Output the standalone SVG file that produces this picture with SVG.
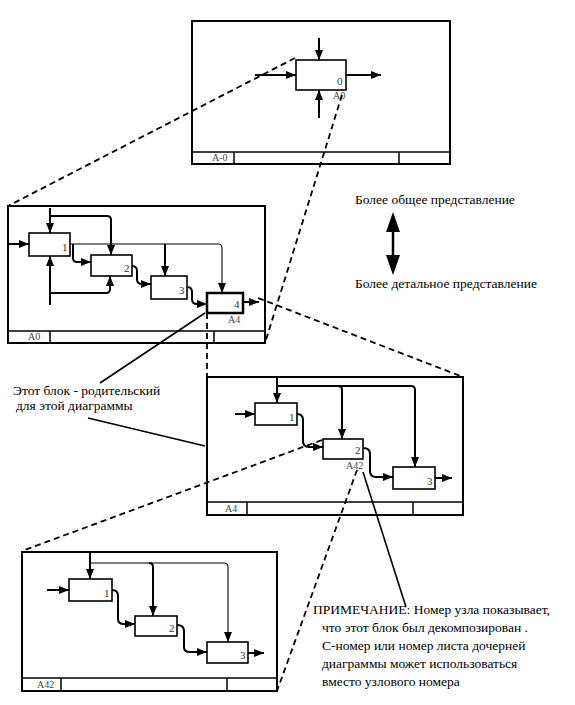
<svg xmlns="http://www.w3.org/2000/svg" width="575" height="705" viewBox="0 0 575 705">
<defs>
<marker id="ah" viewBox="0 0 10 8" refX="10" refY="4" markerWidth="10" markerHeight="8" markerUnits="userSpaceOnUse" orient="auto">
<path d="M0,0 L10,4 L0,8 Z" fill="#000"/>
</marker>
</defs>
<style>
.frame{fill:none;stroke:#000;stroke-width:2}
.tb{fill:none;stroke:#000;stroke-width:1.5}
.box{fill:#fff;stroke:#000;stroke-width:1.6}
.box4{fill:#fff;stroke:#000;stroke-width:2.5}
.c{fill:none;stroke:#000;stroke-width:2;marker-end:url(#ah)}
.ct{fill:none;stroke:#000;stroke-width:1.1;marker-end:url(#ah)}
.dash{fill:none;stroke:#000;stroke-width:1.8;stroke-dasharray:6 4}
.lead{fill:none;stroke:#000;stroke-width:1.6}
.num{font-family:"Liberation Serif","Times New Roman",serif;font-size:11px;fill:#333}
.ref{font-family:"Liberation Serif","Times New Roman",serif;font-size:10px;fill:#444}
.txt{font-family:"Liberation Serif","Times New Roman",serif;font-size:13.5px;fill:#000}
</style>
<rect width="575" height="705" fill="#fff"/>

<g id="frame-A-0">
<rect class="frame" x="192" y="21" width="258" height="143"/>
<line class="tb" x1="192" y1="152" x2="450" y2="152"/>
<line class="tb" x1="234" y1="152" x2="234" y2="164"/>
<line class="tb" x1="399" y1="152" x2="399" y2="164"/>
<text class="ref" x="212" y="161">A-0</text>
</g>
<g id="node-A0">
<rect class="box" x="296" y="60" width="50" height="30"/>
<text class="num" x="337" y="85">0</text>
<text class="ref" x="333" y="99">A0</text>
</g>

<g id="frame-A0">
<rect class="frame" x="8" y="206" width="257" height="137"/>
<line class="tb" x1="8" y1="331" x2="265" y2="331"/>
<line class="tb" x1="50" y1="331" x2="50" y2="343"/>
<line class="tb" x1="214" y1="331" x2="214" y2="343"/>
<text class="ref" x="28" y="340">A0</text>
</g>
<g id="node-A0-1"><rect class="box" x="29" y="233" width="41" height="23"/><text class="num" x="62" y="251">1</text></g>
<g id="node-A0-2"><rect class="box" x="91" y="255" width="41" height="21"/><text class="num" x="124" y="272">2</text></g>
<g id="node-A0-3"><rect class="box" x="151" y="276" width="36" height="23"/><text class="num" x="179" y="294">3</text></g>
<g id="node-A0-4"><rect class="box4" x="207" y="293" width="36" height="20"/><text class="num" x="234" y="308">4</text><text class="ref" x="228" y="323">A4</text></g>

<g id="frame-A4">
<rect class="frame" x="207" y="377" width="256" height="138"/>
<line class="tb" x1="207" y1="502" x2="463" y2="502"/>
<line class="tb" x1="247" y1="502" x2="247" y2="515"/>
<line class="tb" x1="413" y1="502" x2="413" y2="515"/>
<text class="ref" x="225" y="512">A4</text>
</g>
<g id="node-A4-1"><rect class="box" x="255" y="403" width="42" height="22"/><text class="num" x="289" y="421">1</text></g>
<g id="node-A4-2"><rect class="box" x="323" y="439" width="40" height="20"/><text class="num" x="355" y="454">2</text><text class="ref" x="346" y="469">A42</text></g>
<g id="node-A4-3"><rect class="box" x="393" y="467" width="42" height="22"/><text class="num" x="427" y="485">3</text></g>

<g id="frame-A42">
<rect class="frame" x="22" y="552" width="255" height="139"/>
<line class="tb" x1="22" y1="678" x2="277" y2="678"/>
<line class="tb" x1="61" y1="678" x2="61" y2="691"/>
<line class="tb" x1="227" y1="678" x2="227" y2="691"/>
<text class="ref" x="37" y="688">A42</text>
</g>
<g id="node-A42-1"><rect class="box" x="69" y="579" width="43" height="22"/><text class="num" x="104" y="597">1</text></g>
<g id="node-A42-2"><rect class="box" x="135" y="616" width="42" height="20"/><text class="num" x="169" y="632">2</text></g>
<g id="node-A42-3"><rect class="box" x="207" y="642" width="41" height="21"/><text class="num" x="240" y="659">3</text></g>

<g id="connectors">
<path class="c" d="M319,38 V60"/>
<path class="c" d="M319,118 V90"/>
<path class="c" d="M255,75 H296"/>
<path class="c" d="M346,75 H381"/>
<path class="c" d="M9,244 H29"/>
<path class="c" d="M50,208 V233"/>
<path class="c" d="M50,216 H107 Q111,216 111,220 V255"/>
<path class="c" d="M50,305 V256"/>
<path class="c" d="M50,293 H106 Q110,293 110,289 V276"/>
<path class="ct" d="M70,244 H218 Q222,244 222,248 V293"/>
<path class="c" d="M165,244 V276"/>
<path class="c" d="M73,244 V258 Q73,262 77,262 H91"/>
<path class="c" d="M132,266 Q137,266 137,271 V279 Q137,284 142,284 H151"/>
<path class="c" d="M187,287 Q192,287 192,292 V299 Q192,304 197,304 H207"/>
<path class="c" d="M243,302 H259"/>
<path class="c" d="M235,414 H255"/>
<path class="c" d="M277,378 V403"/>
<path class="c" d="M277,386 H411 Q415,386 415,390 V467"/>
<path class="c" d="M338,386 Q342,386 342,390 V439"/>
<path class="c" d="M297,414 Q303,414 303,420 V441 Q303,447 309,447 H323"/>
<path class="c" d="M363,448 Q370,448 370,454 V471 Q370,477 376,477 H393"/>
<path class="c" d="M435,478 H452"/>
<path class="c" d="M47,590 H69"/>
<path class="c" d="M90,553 V579"/>
<path class="ct" d="M90,563 H224 Q228,563 228,567 V642"/>
<path class="c" d="M149,563 Q153,563 153,567 V616"/>
<path class="c" d="M112,590 Q118,590 118,596 V619 Q118,624 124,624 H135"/>
<path class="c" d="M177,625 Q184,625 184,631 V647 Q184,652 190,652 H207"/>
<path class="c" d="M248,653 H264"/>
<path class="dash" d="M295,58 L8,206"/>
<path class="dash" d="M342,95 L265,343"/>
<path class="dash" d="M258,298 L463,377"/>
<path class="dash" d="M207,313 L207,377"/>
<path class="dash" d="M322,440 L22,551"/>
<path class="dash" d="M357,470 L277,691"/>
<path class="lead" d="M205,313 L100,383"/>
<path class="lead" d="M88,418 L205,446"/>
<path class="lead" d="M363,472 L406,607"/>
<line x1="393" y1="228" x2="393" y2="259" stroke="#000" stroke-width="2.5"/>
<path d="M393,212 L386,232 L400,232 Z M393,275 L386,255 L400,255 Z" fill="#000"/>
</g>

<g id="labels">
<text class="txt" x="355" y="204">Более общее представление</text>
<text class="txt" x="355" y="288">Более детальное представление</text>
<text class="txt" x="13" y="395">Этот блок - родительский</text>
<text class="txt" x="16" y="410">для этой диаграммы</text>
<text class="txt" x="313" y="614">ПРИМЕЧАНИЕ: Номер узла показывает,</text>
<text class="txt" x="322" y="632">что этот блок был декомпозирован .</text>
<text class="txt" x="322" y="650">С-номер или номер листа дочерней</text>
<text class="txt" x="322" y="668">диаграммы может использоваться</text>
<text class="txt" x="322" y="686">вместо узлового номера</text>
</g>
</svg>
